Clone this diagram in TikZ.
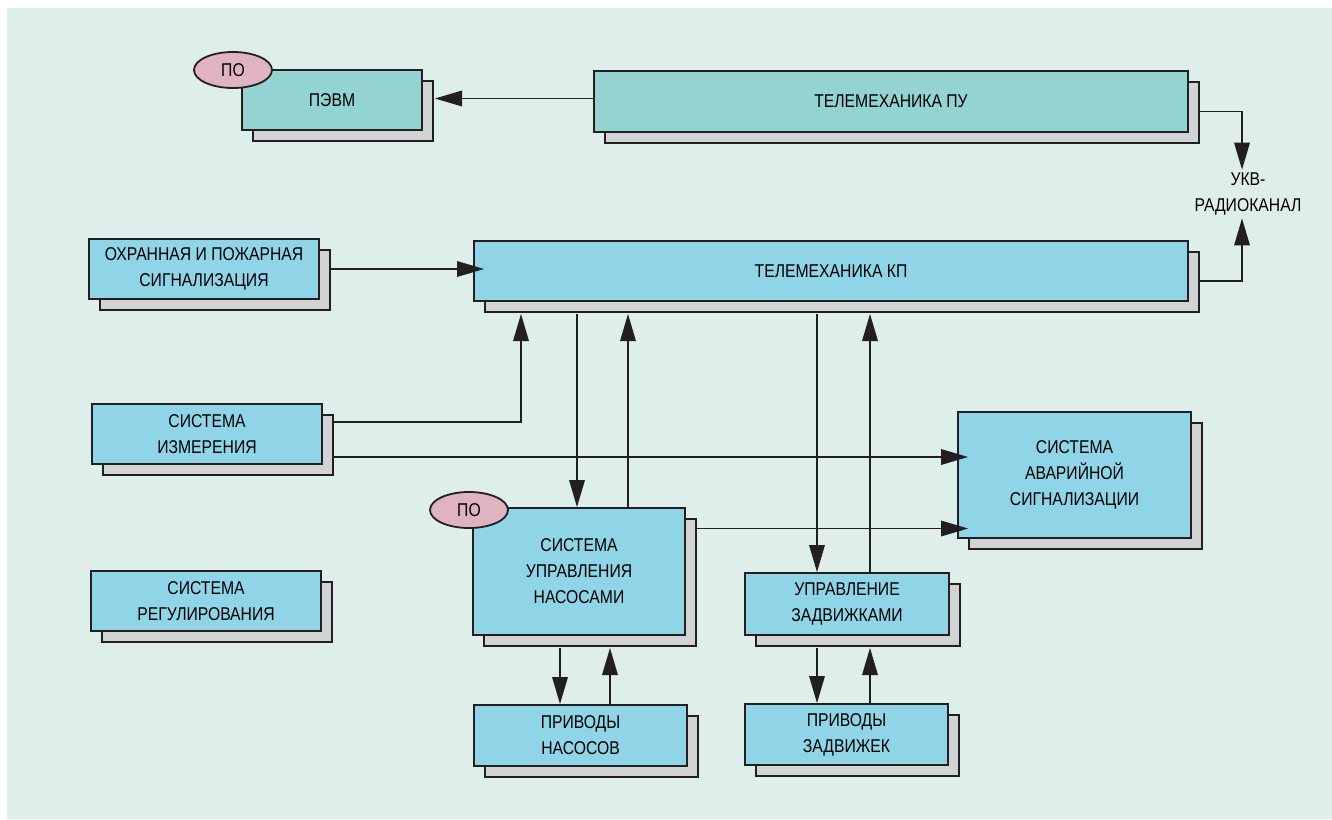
\documentclass[tikz,border=0pt]{standalone}
\usepackage{fontspec}
\setmainfont{Liberation Sans}[FakeStretch=0.85]
\usetikzlibrary{arrows.meta,shapes.geometric,shadows,calc}
\definecolor{bgc}{HTML}{DEEEEA}
\definecolor{tealc}{HTML}{93D3D2}
\definecolor{bluec}{HTML}{8FD4E7}
\definecolor{grayc}{HTML}{D2D3D5}
\definecolor{pinkc}{HTML}{E0B3C1}
\definecolor{linec}{HTML}{231F20}
\tikzset{
  box/.style={draw=linec, line width=2pt, fill=bluec, inner sep=0pt,
    anchor=north west, align=center,
    font=\fontsize{18.5}{26}\selectfont,
    copy shadow={shadow xshift=11pt, shadow yshift=-11pt, fill=grayc, draw=linec, line width=2pt}},
  tealbox/.style={box, fill=tealc},
  po/.style={ellipse, draw=linec, line width=1.8pt, fill=pinkc, minimum width=78pt,
    minimum height=36pt, inner sep=0pt, font=\fontsize{18.5}{20}\selectfont},
  arr/.style={draw=linec, line width=1.8pt, -{Triangle[length=27pt,width=16pt,line width=0pt]}},
  lbl/.style={align=center, font=\fontsize{18.5}{26}\selectfont, inner sep=3pt}
}
\begin{document}
\begin{tikzpicture}[x=1pt,y=-1pt]
\useasboundingbox (0,0) rectangle (1332,819);
\fill[white] (0,0) rectangle (1332,819);
\fill[bgc] (7,8) rectangle (1332,819);

\node[tealbox, minimum width=180pt, minimum height=60pt] (pevm) at (241,69) {ПЭВМ};
\node[po] (po1) at (233,70) {ПО};
\node[tealbox, minimum width=594pt, minimum height=61pt] (tpu) at (593,70) {ТЕЛЕМЕХАНИКА ПУ};
\node[box, minimum width=714pt, minimum height=60pt] (tkp) at (473,240) {ТЕЛЕМЕХАНИКА КП};
\node[box, minimum width=230pt, minimum height=60pt] (ohr) at (88,238) {ОХРАННАЯ И ПОЖАРНАЯ\\СИГНАЛИЗАЦИЯ};
\node[box, minimum width=230pt, minimum height=60pt] (izm) at (91,403) {СИСТЕМА\\ИЗМЕРЕНИЯ};
\node[box, minimum width=233pt, minimum height=126pt] (avar) at (957,411) {СИСТЕМА\\АВАРИЙНОЙ\\СИГНАЛИЗАЦИИ};
\node[box, minimum width=212pt, minimum height=127pt] (sun) at (472,507) {СИСТЕМА\\УПРАВЛЕНИЯ\\НАСОСАМИ};
\node[po] (po2) at (469,510) {ПО};
\node[box, minimum width=204pt, minimum height=62pt] (uz) at (744,572) {УПРАВЛЕНИЕ\\ЗАДВИЖКАМИ};
\node[box, minimum width=230pt, minimum height=60pt] (reg) at (90,570) {СИСТЕМА\\РЕГУЛИРОВАНИЯ};
\node[box, minimum width=213pt, minimum height=61pt] (pn) at (473,704) {ПРИВОДЫ\\НАСОСОВ};
\node[box, minimum width=203pt, minimum height=61pt] (pz) at (744,703) {ПРИВОДЫ\\ЗАДВИЖЕК};
\node[lbl] (ukv) at (1248,194) {УКВ-\\РАДИОКАНАЛ};

\coordinate (pevmS) at ([shift={(12,0)}]pevm.east);
\coordinate (tkpS) at ([shift={(0,12)}]tkp.south);
\coordinate (sunS) at ([shift={(0,12)}]sun.south);
\coordinate (uzS) at ([shift={(0,12)}]uz.south);
\coordinate (ukvx) at (1242,0);
\coordinate (izmx) at (521,0);
\coordinate (a1) at ([shift={(105,0)}]sun.north west);
\coordinate (a2) at ([shift={(156,0)}]sun.north west);
\coordinate (b1) at ([shift={(73,0)}]uz.north west);
\coordinate (b2) at ([shift={(126,0)}]uz.north west);
\coordinate (c1) at ([shift={(87,0)}]pn.north west);
\coordinate (c2) at ([shift={(137,0)}]pn.north west);
\coordinate (d1) at ([shift={(73,0)}]pz.north west);
\coordinate (d2) at ([shift={(126,0)}]pz.north west);
\coordinate (tpuW) at ([shift={(0,-3)}]tpu.west);

\draw[arr] (tpuW) -- (tpuW -| pevmS);
\draw[arr] ([shift={(11,10)}]tpu.east) -| (ukv.north -| ukvx);
\draw[arr] ([shift={(11,10)}]tkp.east) -| (ukv.south -| ukvx);
\draw[arr] ([shift={(11,0)}]ohr.east) -- ([shift={(11,0)}]ohr.east -| tkp.west);
\draw[arr] ([shift={(11,-12)}]izm.east) -| (izmx |- tkpS);
\draw[arr] ([shift={(11,23)}]izm.east) -- ([shift={(11,23)}]izm.east -| avar.west);
\draw[arr] ([shift={(11,-43)}]sun.east) -- ([shift={(11,-43)}]sun.east -| avar.west);
\draw[arr] (a1 |- tkpS) -- (a1);
\draw[arr] (a2) -- (a2 |- tkpS);
\draw[arr] (b1 |- tkpS) -- (b1);
\draw[arr] (b2) -- (b2 |- tkpS);
\draw[arr] (c1 |- sunS) -- (c1);
\draw[arr] (c2) -- (c2 |- sunS);
\draw[arr] (d1 |- uzS) -- (d1);
\draw[arr] (d2) -- (d2 |- uzS);
\end{tikzpicture}
\end{document}
